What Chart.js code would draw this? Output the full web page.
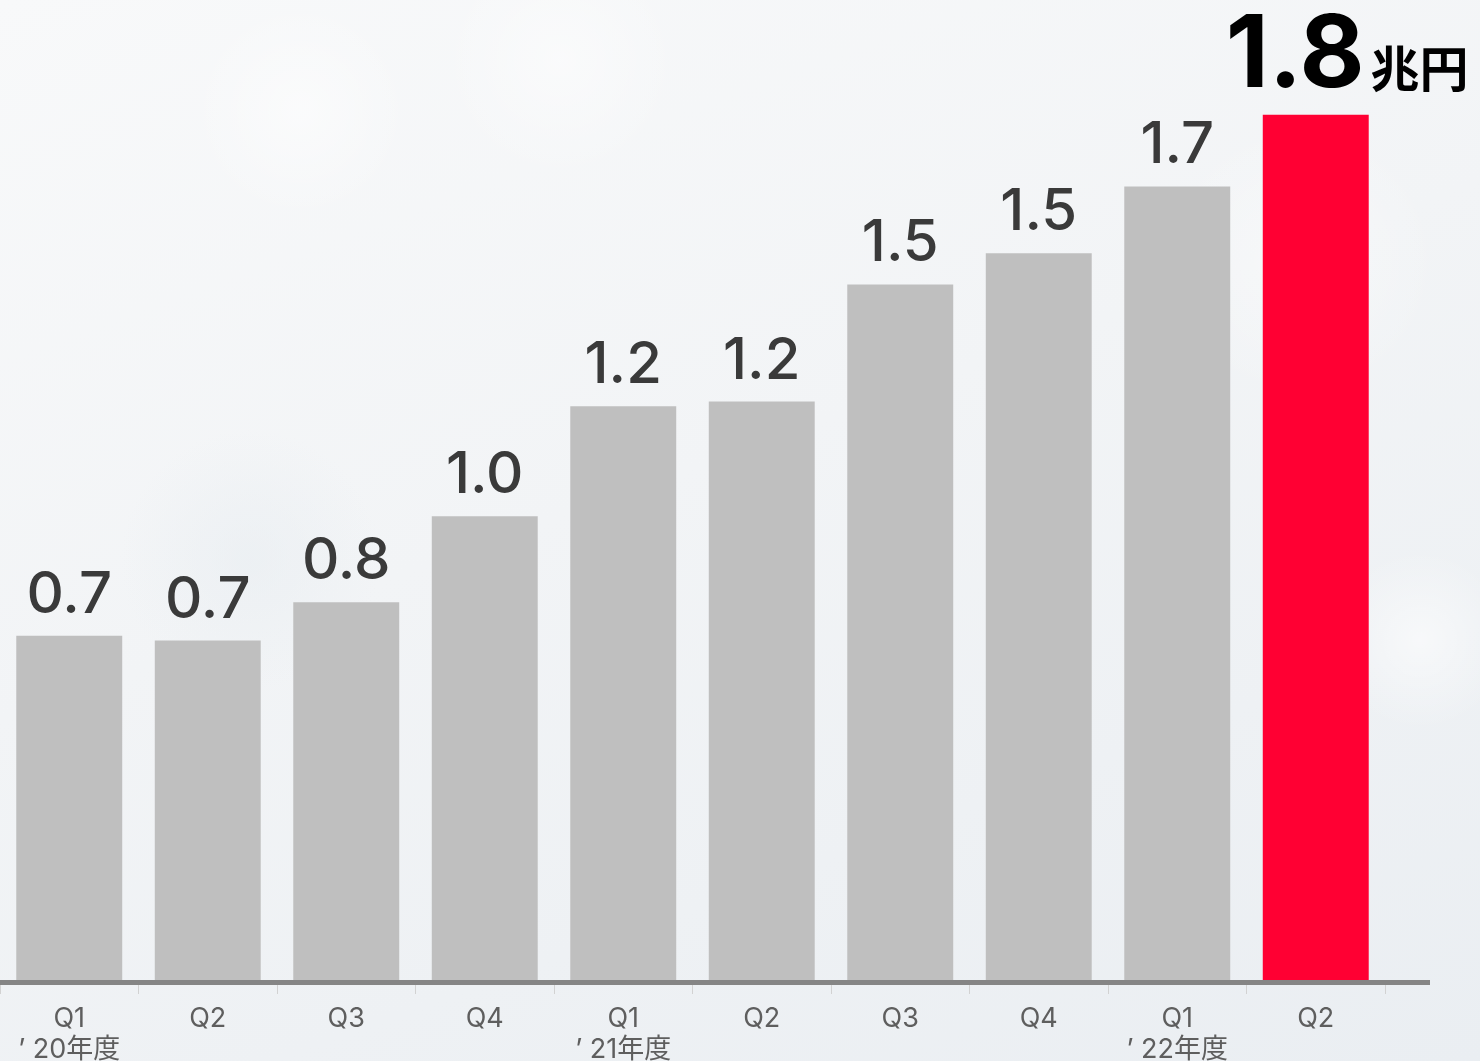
<!DOCTYPE html>
<html lang="ja">
<head>
<meta charset="utf-8">
<title>四半期推移</title>
<script src="https://cdn.jsdelivr.net/npm/chart.js@4"></script>
<style>
  html, body { margin: 0; padding: 0; }
  body {
    width: 1480px;
    height: 1061px;
    overflow: hidden;
    background:
      radial-gradient(circle at 1420px 640px, rgba(255,255,255,0.55) 0, rgba(255,255,255,0) 90px),
      radial-gradient(circle at 300px 110px, rgba(255,255,255,0.5) 0, rgba(255,255,255,0) 110px),
      radial-gradient(circle at 560px 60px, rgba(255,255,255,0.45) 0, rgba(255,255,255,0) 120px),
      radial-gradient(circle at 250px 560px, rgba(232,237,241,0.6) 0, rgba(232,237,241,0) 130px),
      radial-gradient(circle at 1300px 260px, rgba(255,255,255,0.4) 0, rgba(255,255,255,0) 140px),
      linear-gradient(160deg, #f8f9fa 0%, #f2f4f6 45%, #eaeef2 100%);
  }
  canvas { display: block; }
</style>
</head>
<body>
<canvas id="chart" width="1480" height="1061"></canvas>
<script>
  const quarters = [
    ["Q1", "’ 20年度"], "Q2", "Q3", "Q4",
    ["Q1", "’ 21年度"], "Q2", "Q3", "Q4",
    ["Q1", "’ 22年度"], "Q2"
  ];
  const values = [0.72, 0.71, 0.79, 0.97, 1.20, 1.21, 1.455, 1.52, 1.66, 1.81];
  const unitLabel = "兆円";

  const GRAY = "#bfbfbf";
  const RED = "#ff0033";
  const barColors = values.map((v, i) => (i === values.length - 1 ? RED : GRAY));

  // value above each bar; the latest one is larger with the unit
  const valueLabels = {
    id: "valueLabels",
    afterDatasetsDraw(chart) {
      const ctx = chart.ctx;
      const bars = chart.getDatasetMeta(0).data;
      ctx.save();
      ctx.textBaseline = "alphabetic";
      bars.forEach((bar, i) => {
        const txt = values[i].toFixed(1);
        if (i === bars.length - 1) {
          const bigFont = "700 100px Inter, 'Noto Sans', sans-serif";
          const unitFont = "700 49px 'Noto Sans CJK JP', sans-serif";
          ctx.textAlign = "left";
          ctx.fillStyle = "#000";
          ctx.font = bigFont;
          const w1 = ctx.measureText(txt).width;
          const left = bar.x - 90;
          const base = bar.y - 28;
          ctx.fillText(txt, left, base);
          ctx.font = unitFont;
          ctx.fillText(unitLabel, left + w1 + 6, base);
        } else {
          ctx.textAlign = "center";
          ctx.fillStyle = "#3a3a3a";
          ctx.font = "500 58px Inter, 'Noto Sans', sans-serif";
          ctx.fillText(txt, bar.x, bar.y - 23);
        }
      });
      ctx.restore();
    }
  };

  // thick baseline that runs a little past the last category
  const baseLine = {
    id: "baseLine",
    afterDatasetsDraw(chart) {
      const ctx = chart.ctx;
      const y = chart.scales.y.getPixelForValue(0);
      ctx.save();
      ctx.fillStyle = "#858585";
      ctx.fillRect(0, y, chart.chartArea.right + 45, 5);
      ctx.restore();
    }
  };

  new Chart(document.getElementById("chart"), {
    type: "bar",
    data: {
      labels: quarters,
      datasets: [{
        data: values,
        backgroundColor: barColors,
        borderWidth: 0,
        barPercentage: 0.765,
        categoryPercentage: 1
      }]
    },
    options: {
      responsive: false,
      devicePixelRatio: 1,
      animation: false,
      layout: { padding: { left: 0, right: 95, top: 0, bottom: 0 } },
      plugins: {
        legend: { display: false },
        tooltip: { enabled: false }
      },
      scales: {
        x: {
          grid: {
            display: true,
            drawOnChartArea: false,
            drawTicks: true,
            tickLength: 14,
            offset: true,
            color: "#d2d2d2",
            lineWidth: 1
          },
          border: { display: false },
          ticks: {
            color: "#5e5e5e",
            padding: 9,
            maxRotation: 0,
            autoSkip: false,
            font: { family: "Inter, 'Noto Sans CJK JP', sans-serif", size: 27, lineHeight: 1.15 }
          },
          afterFit(scale) { scale.height = 81; }
        },
        y: {
          display: false,
          min: 0,
          max: 2.05
        }
      }
    },
    plugins: [baseLine, valueLabels]
  });
</script>
</body>
</html>
